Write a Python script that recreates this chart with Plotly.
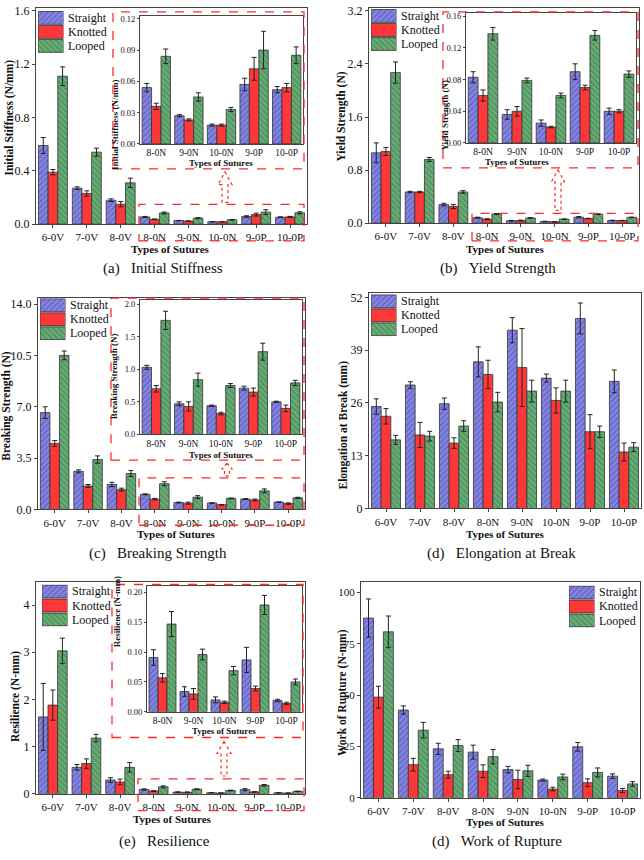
import plotly.graph_objects as go

W, H = 644, 860
FONT = "Liberation Serif"

categories = ["6-0V", "7-0V", "8-0V", "8-0N", "9-0N", "10-0N", "9-0P", "10-0P"]
series_names = ["Straight", "Knotted", "Looped"]

# (a) Initial Stiffness
a_straight = [0.59, 0.27, 0.18, 0.054, 0.027, 0.018, 0.057, 0.052]
a_straight_err = [0.06, 0.01, 0.01, 0.004, 0.001, 0.001, 0.006, 0.003]
a_knotted = [0.39, 0.23, 0.15, 0.036, 0.023, 0.018, 0.072, 0.054]
a_knotted_err = [0.02, 0.02, 0.02, 0.003, 0.001, 0.001, 0.011, 0.004]
a_looped = [1.11, 0.54, 0.31, 0.084, 0.045, 0.033, 0.090, 0.085]
a_looped_err = [0.07, 0.03, 0.035, 0.007, 0.004, 0.002, 0.018, 0.008]

# (b) Yield Strength
b_straight = [1.06, 0.47, 0.28, 0.083, 0.036, 0.025, 0.090, 0.040]
b_straight_err = [0.15, 0.01, 0.02, 0.007, 0.006, 0.004, 0.010, 0.004]
b_knotted = [1.08, 0.47, 0.25, 0.060, 0.040, 0.020, 0.070, 0.040]
b_knotted_err = [0.06, 0.01, 0.03, 0.007, 0.006, 0.001, 0.003, 0.002]
b_looped = [2.27, 0.96, 0.47, 0.138, 0.079, 0.060, 0.136, 0.087]
b_looped_err = [0.16, 0.03, 0.02, 0.008, 0.003, 0.003, 0.006, 0.004]

# (c) Breaking Strength
c_straight = [6.6, 2.6, 1.7, 1.03, 0.47, 0.44, 0.71, 0.50]
c_straight_err = [0.4, 0.1, 0.15, 0.03, 0.03, 0.01, 0.03, 0.01]
c_knotted = [4.5, 1.6, 1.35, 0.70, 0.43, 0.32, 0.65, 0.40]
c_knotted_err = [0.2, 0.1, 0.1, 0.05, 0.07, 0.02, 0.06, 0.05]
c_looped = [10.5, 3.4, 2.45, 1.75, 0.84, 0.75, 1.27, 0.79]
c_looped_err = [0.3, 0.25, 0.2, 0.14, 0.10, 0.03, 0.13, 0.04]

# (d) Elongation at Break
d_straight = [25.1, 30.4, 25.8, 36.1, 43.9, 32.1, 46.8, 31.3]
d_straight_err = [1.9, 0.8, 1.4, 3.7, 3.1, 1.0, 3.8, 2.8]
d_knotted = [22.7, 18.1, 16.1, 33.0, 34.7, 26.6, 18.9, 13.9]
d_knotted_err = [1.9, 3.1, 1.3, 3.5, 9.6, 3.1, 4.2, 2.2]
d_looped = [16.9, 17.8, 20.3, 26.2, 28.9, 28.9, 18.9, 15.1]
d_looped_err = [1.1, 1.2, 1.3, 2.4, 2.7, 2.7, 1.4, 1.1]

# (e) Resilience
e_straight = [1.63, 0.56, 0.29, 0.091, 0.034, 0.020, 0.087, 0.019]
e_straight_err = [0.71, 0.06, 0.05, 0.013, 0.008, 0.005, 0.021, 0.002]
e_knotted = [1.88, 0.64, 0.25, 0.057, 0.030, 0.016, 0.039, 0.014]
e_knotted_err = [0.32, 0.10, 0.06, 0.007, 0.009, 0.002, 0.004, 0.002]
e_looped = [3.03, 1.18, 0.56, 0.147, 0.096, 0.069, 0.179, 0.050]
e_looped_err = [0.27, 0.08, 0.10, 0.021, 0.009, 0.007, 0.016, 0.005]

# (f) Work of Rupture
f_straight = [87.5, 42.7, 23.8, 22.2, 13.7, 8.6, 24.8, 10.5]
f_straight_err = [9.3, 2.0, 2.7, 3.4, 1.6, 0.5, 2.1, 1.1]
f_knotted = [49.0, 16.1, 11.2, 12.9, 8.9, 4.2, 7.3, 3.5]
f_knotted_err = [5.3, 3.1, 1.7, 3.1, 4.5, 0.9, 1.9, 1.0]
f_looped = [80.8, 32.9, 25.4, 20.0, 13.1, 10.1, 12.3, 6.7]
f_looped_err = [7.7, 3.8, 2.9, 3.5, 2.7, 1.4, 2.2, 1.1]

y_titles = ["Initial Stiffness (N/mm)", "Yield Strength (N)", "Breaking Strength (N)",
            "Elongation at Break (mm)", "Resilience (N-mm)", "Work of Rupture (N-mm)"]
captions = ["(a)\u00a0\u00a0\u00a0Initial Stiffness", "(b)\u00a0\u00a0\u00a0Yield Strength",
            "(c)\u00a0\u00a0\u00a0Breaking Strength", "(d)\u00a0\u00a0\u00a0Elongation at Break",
            "(e)\u00a0\u00a0\u00a0Resilience", "(d)\u00a0\u00a0\u00a0Work of Rupture"]

STYLES = [
    dict(color="#8585E2", pattern=dict(shape="/", fgcolor="#3A3A9A", size=4, solidity=0.3, fillmode="overlay")),
    dict(color="#FF3A3A", pattern=dict(shape="x", fgcolor="#D01818", size=3, solidity=0.2, fillmode="overlay")),
    dict(color="#68AC76", pattern=dict(shape="\\", fgcolor="#2C6A3A", size=4, solidity=0.3, fillmode="overlay")),
]


def px(x):
    return x / W


def py(y):
    return 1 - y / H


panels = [
    dict(l=36, r=307, t=4, b=223, ymax=1.622, dtick=0.4, fmt=".1f",
         data=[(a_straight, a_straight_err), (a_knotted, a_knotted_err), (a_looped, a_looped_err)]),
    dict(l=369, r=639, t=4, b=222, ymax=3.245, dtick=0.8, fmt=".1f",
         data=[(b_straight, b_straight_err), (b_knotted, b_knotted_err), (b_looped, b_looped_err)]),
    dict(l=38, r=305, t=298, b=512, ymax=14.4, dtick=3.5, fmt=".1f",
         data=[(c_straight, c_straight_err), (c_knotted, c_knotted_err), (c_looped, c_looped_err)]),
    dict(l=369, r=641, t=293, b=511, ymax=53.0, dtick=13, fmt="d",
         data=[(d_straight, d_straight_err), (d_knotted, d_knotted_err), (d_looped, d_looped_err)]),
    dict(l=36, r=305, t=585, b=800, ymax=4.5, dtick=1, fmt="d",
         data=[(e_straight, e_straight_err), (e_knotted, e_knotted_err), (e_looped, e_looped_err)]),
    dict(l=361, r=640, t=585, b=804, ymax=105.3, dtick=25, fmt="d",
         data=[(f_straight, f_straight_err), (f_knotted, f_knotted_err), (f_looped, f_looped_err)]),
]

insets = [
    dict(p=0, l=140, r=303, t=11.7, b=141.7, ymax=0.1231, dtick=0.03, fmt=".2f",
         box=(113, 8, 304, 167), small=(139, 203, 304, 240),
         arrow=(225, 170, 183, 201, 7, 3), ytx=114.5, yty=74, xtx=221, xty=161.5),
    dict(p=1, l=466, r=636, t=9.3, b=140.7, ymax=0.164, dtick=0.04, fmt=".2f",
         box=(443, 8, 638, 166), small=(472, 212, 638, 240),
         arrow=(558, 168, 180, 209, 6.5, 3), ytx=445, yty=75, xtx=551, xty=160.5),
    dict(p=2, l=140, r=302, t=300, b=436, ymax=2.06, dtick=0.5, fmt=".1f",
         box=(111, 298, 304, 462), small=(139, 480, 304, 528),
         arrow=(227, 465, 471, 478, 5, 2.5), ytx=114, yty=377, xtx=221, xty=456.5),
    dict(p=4, l=147, r=302, t=590, b=717, ymax=0.21, dtick=0.05, fmt=".2f",
         box=(112, 588, 303, 743), small=(138, 785, 304, 817),
         arrow=(224, 747, 759, 782, 7, 3), ytx=117, yty=654, xtx=224, xty=736.5),
]

x_title_pos = [(171, 248), (505, 248), (176, 537), (505, 536.5), (172, 826), (505, 829)]
y_title_pos = [(10, 115), (342, 114), (7, 407), (344, 427), (15, 702), (342, 697)]
caption_pos = [(163, 268), (498, 268), (158, 557), (501, 557), (164, 848), (497, 848)]
legend_geo = [(38, 7), (371, 5), (40, 298), (371, 294), (42, 588), (569, 589)]
SW_W, ROW = 25.5, 14.2

fig = go.Figure()
layout = dict(width=W, height=H, margin=dict(l=0, r=0, t=0, b=0),
              paper_bgcolor="white", plot_bgcolor="white", barmode="overlay",
              font=dict(family=FONT, color="#111"), showlegend=False)

annotations = []
shapes = []


def axis_common():
    return dict(showline=True, linecolor="#444", linewidth=1, mirror=True,
                ticks="outside", ticklen=3, tickcolor="#444", showgrid=False, zeroline=False)


def add_bars(xcats, series, xa, ya, width, start=0):
    offs = [-1.5 * width, -0.5 * width, 0.5 * width]
    for i, (vals, errs) in enumerate(series):
        fig.add_trace(go.Bar(
            x=xcats, y=vals[start:], name=series_names[i],
            width=width, offset=offs[i],
            marker=dict(color=STYLES[i]["color"], pattern=STYLES[i]["pattern"],
                        line=dict(color="#333", width=0.8)),
            error_y=dict(type="data", array=errs[start:], color="#222", thickness=1, width=2.5),
            xaxis=xa, yaxis=ya, showlegend=False,
        ))


for k, p in enumerate(panels):
    n = k + 1
    xa = "x" if n == 1 else f"x{n}"
    ya = "y" if n == 1 else f"y{n}"
    add_bars(categories, p["data"], xa, ya, 0.285)
    xkey = "xaxis" if n == 1 else f"xaxis{n}"
    ykey = "yaxis" if n == 1 else f"yaxis{n}"
    layout[xkey] = dict(axis_common(), domain=[px(p["l"]), px(p["r"])], anchor=ya,
                        type="category", categoryorder="array", categoryarray=categories,
                        range=[-0.5, 7.5], tickfont=dict(size=11, family=FONT, color="#111"))
    layout[ykey] = dict(axis_common(), domain=[py(p["b"]), py(p["t"])], anchor=xa,
                        range=[0, p["ymax"]], dtick=p["dtick"], tick0=0, tickformat=p["fmt"],
                        tickfont=dict(size=11 if k == 5 else 12, family=FONT, color="#111"))
    m = 11 + k
    sl, st = legend_geo[k]
    layout[f"xaxis{m}"] = dict(domain=[px(sl), px(sl + SW_W)], anchor=f"y{m}", range=[0, 1],
                               visible=False, fixedrange=True)
    layout[f"yaxis{m}"] = dict(domain=[py(st + 3 * ROW), py(st)], anchor=f"x{m}", range=[2.5, -0.5],
                               visible=False, fixedrange=True)
    for i in range(3):
        fig.add_trace(go.Bar(
            y=[i], x=[1], orientation="h", width=13 / ROW, name=series_names[i],
            marker=dict(color=STYLES[i]["color"], pattern=STYLES[i]["pattern"],
                        line=dict(color="#333", width=0.8)),
            xaxis=f"x{m}", yaxis=f"y{m}", showlegend=False, hoverinfo="skip",
        ))
        annotations.append(dict(x=px(sl + SW_W + 2.5), y=py(st + (i + 0.5) * ROW), xref="paper", yref="paper",
                                text=series_names[i], showarrow=False, xanchor="left", yanchor="middle",
                                font=dict(size=12, family=FONT, color="#111")))
    tx, ty = x_title_pos[k]
    annotations.append(dict(x=px(tx), y=py(ty), xref="paper", yref="paper", text="Types of Sutures",
                            showarrow=False, font=dict(size=11, family=FONT, color="#111", weight="bold"),
                            xanchor="center", yanchor="middle"))
    tx, ty = y_title_pos[k]
    annotations.append(dict(x=px(tx), y=py(ty), xref="paper", yref="paper", text=y_titles[k],
                            showarrow=False, textangle=-90,
                            font=dict(size=11.5, family=FONT, color="#111", weight="bold"),
                            xanchor="center", yanchor="middle"))
    tx, ty = caption_pos[k]
    annotations.append(dict(x=px(tx), y=py(ty), xref="paper", yref="paper", text=captions[k],
                            showarrow=False, font=dict(size=15, family=FONT, color="#111"),
                            xanchor="center", yanchor="middle"))

inset_cats = categories[3:]
RED = "#FF2A2A"
for j, ins in enumerate(insets):
    n = 7 + j
    xa, ya = f"x{n}", f"y{n}"
    p = panels[ins["p"]]
    add_bars(inset_cats, p["data"], xa, ya, 0.29, start=3)
    layout[f"xaxis{n}"] = dict(axis_common(), domain=[px(ins["l"]), px(ins["r"])], anchor=ya,
                               type="category", categoryorder="array", categoryarray=inset_cats,
                               range=[-0.5, 4.5], ticks="",
                               tickfont=dict(size=9.5, family=FONT, color="#111"))
    layout[f"yaxis{n}"] = dict(axis_common(), domain=[py(ins["b"]), py(ins["t"])], anchor=xa,
                               range=[0, ins["ymax"]], dtick=ins["dtick"], tick0=0, tickformat=ins["fmt"],
                               ticklen=2, tickfont=dict(size=8.5, family=FONT, color="#111"))
    annotations.append(dict(x=px(ins["xtx"]), y=py(ins["xty"]), xref="paper", yref="paper",
                            text="Types of Sutures", showarrow=False, yanchor="middle",
                            font=dict(size=9, family=FONT, color="#111", weight="bold")))
    annotations.append(dict(x=px(ins["ytx"]), y=py(ins["yty"]), xref="paper", yref="paper",
                            text=y_titles[ins["p"]], showarrow=False, textangle=-90, xanchor="center",
                            font=dict(size=9, family=FONT, color="#111", weight="bold")))
    for (x0, y0, x1, y1) in (ins["box"], ins["small"]):
        shapes.append(dict(type="rect", xref="paper", yref="paper", x0=px(x0), x1=px(x1),
                           y0=py(y1), y1=py(y0), line=dict(color=RED, width=1.3, dash="dash"),
                           fillcolor="rgba(0,0,0,0)", layer="above"))
    cx, tip, hb, bot, hw, sw = ins["arrow"]
    pts = [(cx, tip), (cx + hw, hb), (cx + sw, hb), (cx + sw, bot), (cx - sw, bot),
           (cx - sw, hb), (cx - hw, hb)]
    path = "M " + " L ".join(f"{px(a):.5f},{py(b):.5f}" for a, b in pts) + " Z"
    shapes.append(dict(type="path", xref="paper", yref="paper", path=path,
                       line=dict(color=RED, width=1.2, dash="dot"), fillcolor="white", layer="above"))

layout["annotations"] = annotations
layout["shapes"] = shapes
fig.update_layout(**layout)
fig.write_html("out.html")
